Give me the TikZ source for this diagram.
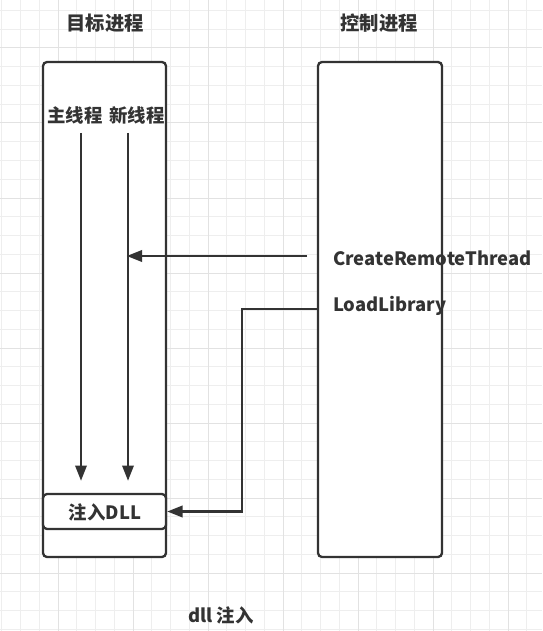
\documentclass[tikz,border=0pt]{standalone}
\usepackage{fontspec}
\setmainfont{Noto Sans CJK SC}
\usepackage{xcolor}
\usetikzlibrary{arrows.meta,positioning}
\definecolor{ink}{HTML}{333333}
\definecolor{gridminor}{HTML}{EEEEEE}
\definecolor{gridmajor}{HTML}{E2E2E2}
\tikzset{
  procbox/.style={
    draw=ink, fill=white, line width=1.75pt, rounded corners=3pt,
    minimum width=#1, minimum height=371.25pt, inner sep=0pt,
  },
  lbl/.style={
    font=\fontsize{13.8}{16}\selectfont\bfseries, text=ink, inner sep=0pt,
  },
  arrow/.style={-{Triangle[length=11.5pt,width=8.5pt]}, line width=1.75pt, color=ink},
}

\begin{document}
\begin{tikzpicture}[x=0.75pt, y=-0.75pt]

  \fill[white] (0,0) rectangle (542,631);
  \useasboundingbox (0,0) rectangle (542,631);

  % grid
  \foreach \i in {0,...,28} \draw[gridminor, line width=0.75pt] (1.75+18.75*\i,0) -- (1.75+18.75*\i,631);
  \foreach \j in {0,...,33} \draw[gridminor, line width=0.75pt] (0,10.5+18.75*\j) -- (542,10.5+18.75*\j);
  \foreach \i in {0,...,6} \draw[gridmajor, line width=0.75pt] (58+75*\i,0) -- (58+75*\i,631);
  \foreach \j in {0,...,7} \draw[gridmajor, line width=0.75pt] (0,48+75*\j) -- (542,48+75*\j);

  % processes
  \node[procbox=92.25pt] (target) at (104.5,309.5) {};
  \node[procbox=93pt] (ctrl) at (380,309.5) {};
  \node[lbl, font=\fontsize{14.5}{16}\selectfont\bfseries] (targettitle) at (105,23) {目标进程};
  \node[lbl, font=\fontsize{14.5}{16}\selectfont\bfseries] (ctrltitle) at (379,23) {控制进程};

  \node[lbl] (mainth) at (75,115) {主线程};
  \node[lbl] (newth) at (137,115) {新线程};
  \node[procbox=92.25pt, minimum height=26.25pt] (inject) at (104.5,511.5) {};
  \node[lbl] (injecttext) at (105,512) {注入DLL};

  \node[lbl, anchor=west] (crt) at (333,258) {CreateRemoteThread};
  \node[lbl, anchor=west] (loadlib) at (333,306) {LoadLibrary};

  \node[lbl] (caption) at (221,615) {dll 注入};

  \coordinate (m0) at (81,133);
  \coordinate (n0) at (128,133);
  \coordinate (crtfrom) at (307,256);
  \coordinate (llbend) at (242,309);

  \draw[arrow, shorten >=9pt] (m0) -- (m0 |- inject.north);
  \draw[arrow, shorten >=9pt] (n0) -- (n0 |- inject.north);
  \draw[arrow, shorten >=-1pt] (crtfrom) -- (n0 |- crtfrom);
  \draw[arrow] (ctrl.west |- llbend) -- (llbend) |- (inject.east);

\end{tikzpicture}
\end{document}
